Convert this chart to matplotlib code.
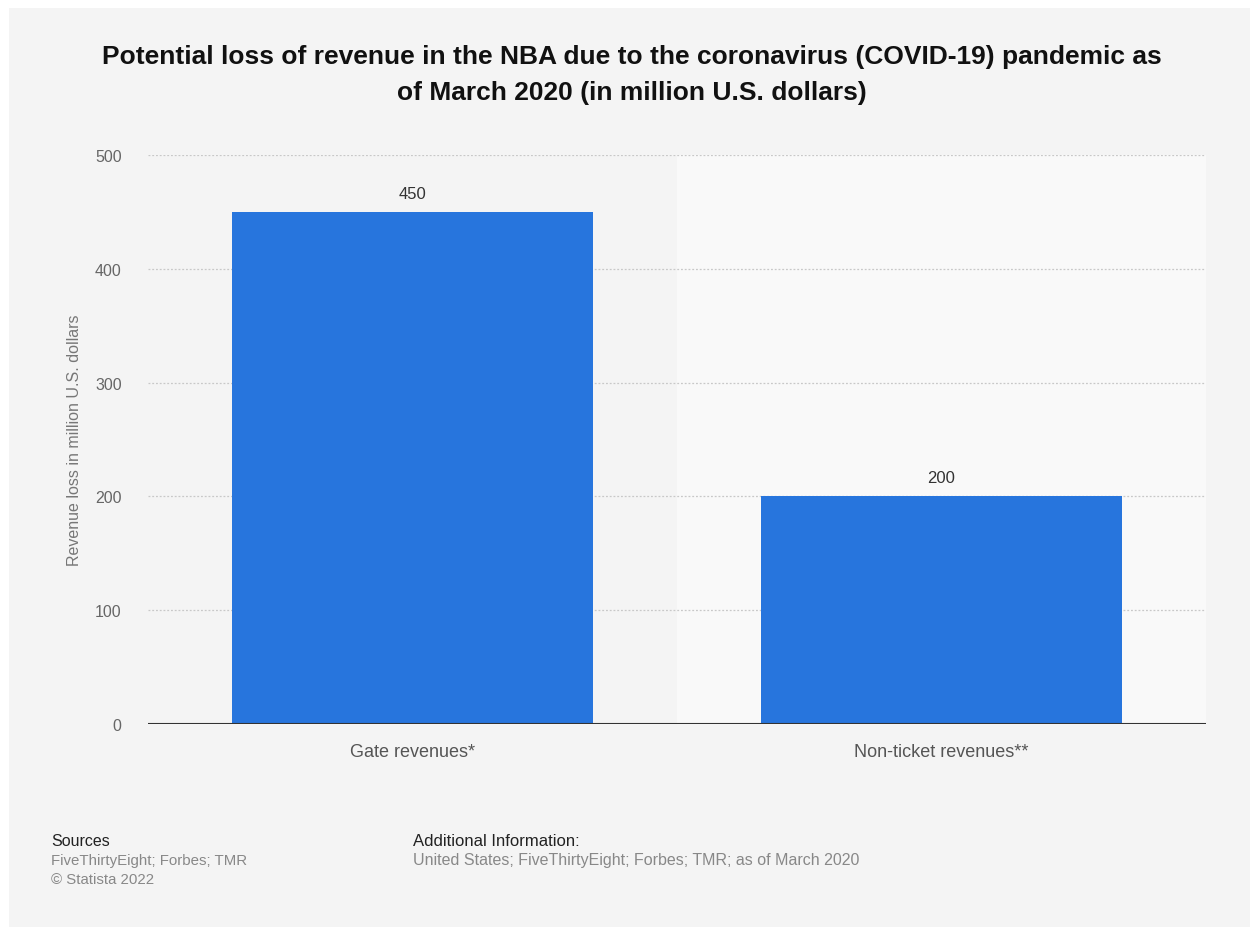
import matplotlib.pyplot as plt

plt.rcParams['font.family'] = ['Liberation Sans', 'DejaVu Sans']

categories = ['Gate revenues*', 'Non-ticket revenues**']
values = [450, 200]
y_ticks = [0, 100, 200, 300, 400, 500]

W, H = 1250, 928
fig = plt.figure(figsize=(W / 100, H / 100), dpi=100)
fig.patch.set_facecolor('white')
# gray panel with thin white border on top/left
fig.patches.append(plt.Rectangle((9 / W, 0), 1 - 9 / W, 1 - 9 / H, transform=fig.transFigure,
                                 facecolor='#f4f4f4', edgecolor='none', zorder=-10))

ax = fig.add_axes([148 / W, 1 - 725 / H, (1206 - 148) / W, (725 - 156) / H])
ax.set_facecolor('none')
ax.set_xlim(-0.5, len(categories) - 0.5)
ax.set_ylim(0, 500)

# alternating column bands
for i in range(len(categories)):
    ax.axvspan(i - 0.5, i + 0.5, color='#f4f4f4' if i % 2 == 0 else '#f9f9f9', zorder=0, lw=0)

for y in y_ticks[1:]:
    ax.axhline(y, color='#c8c8c8', lw=0.9, ls=(0, (1.5, 1.5)), zorder=1)

bars = ax.bar(range(len(categories)), values, width=0.683, color='#2775dd', zorder=2)
for b, v in zip(bars, values):
    ax.text(b.get_x() + b.get_width() / 2, v + 10, str(v), ha='center', va='bottom',
            fontsize=12, color='#333333')

ax.axhline(0, color='#333333', lw=1.5, zorder=3)

for s in ax.spines.values():
    s.set_visible(False)
ax.set_yticks(y_ticks)
ax.set_xticks(range(len(categories)))
ax.set_xticklabels(categories)
ax.tick_params(axis='y', length=0, pad=19, labelsize=11.5, labelcolor='#666666')
ax.tick_params(axis='x', length=0, pad=14, labelsize=13, labelcolor='#555555')
ax.set_ylabel('Revenue loss in million U.S. dollars', fontsize=11.5, color='#777777', labelpad=9)

fig.text(632 / W, 1 - 75 / H,
         'Potential loss of revenue in the NBA due to the coronavirus (COVID-19) pandemic as\n'
         'of March 2020 (in million U.S. dollars)',
         ha='center', va='center', fontsize=19, fontweight='bold', color='#111111', linespacing=1.6)

fig.text(51 / W, 1 - 842 / H, 'Sources', fontsize=11.5, color='#222222', va='center')
fig.text(51 / W, 1 - 861 / H, 'FiveThirtyEight; Forbes; TMR', fontsize=10.8, color='#888888', va='center')
fig.text(51 / W, 1 - 880 / H, '\u00a9 Statista 2022', fontsize=10.8, color='#888888', va='center')
fig.text(413 / W, 1 - 842 / H, 'Additional Information:', fontsize=12, color='#222222', va='center')
fig.text(413 / W, 1 - 861 / H, 'United States; FiveThirtyEight; Forbes; TMR; as of March 2020',
         fontsize=11.5, color='#888888', va='center')

fig.savefig('out.png', dpi=100, facecolor=fig.get_facecolor())
